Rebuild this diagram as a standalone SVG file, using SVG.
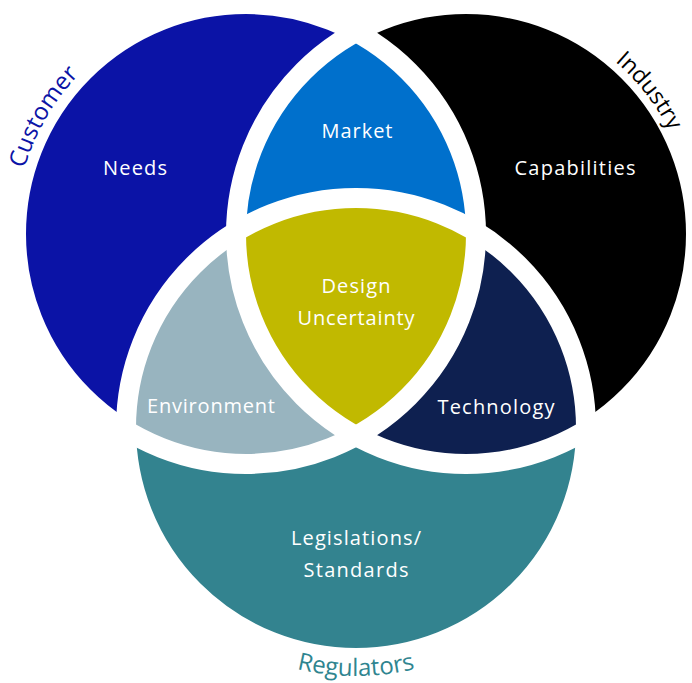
<svg xmlns="http://www.w3.org/2000/svg" width="692" height="683" viewBox="0 0 692 683">
  <style>
    .lbl { font-family: "Open Sans", "DejaVu Sans", sans-serif; font-size: 20px; fill: #ffffff; text-anchor: middle; }
    .set { font-family: "Open Sans", "DejaVu Sans", sans-serif; font-size: 24px; text-anchor: middle; }
    .gap { fill: none; stroke: #ffffff; stroke-width: 20; }
  </style>
  <defs>
    <clipPath id="cL"><circle cx="246" cy="234" r="230"/></clipPath>
    <clipPath id="cR"><circle cx="466" cy="234" r="230"/></clipPath>
    <path id="arcCustomer" d="M 45.95 349.5 A 231 231 0 0 1 246 3"/>
    <path id="arcIndustry" d="M 434.3 8.2 A 228 228 0 0 1 677.4 319.4"/>
    <path id="arcRegulators" d="M 141.2 552 A 248 248 0 0 0 570.8 552"/>
  </defs>

  <g id="needs">
    <circle cx="246" cy="234" r="230" fill="#0b13a6"/>
    <text class="lbl" x="135" y="175" textLength="64">Needs</text>
  </g>
  <g id="capabilities">
    <circle cx="466" cy="234" r="230" fill="#000000"/>
    <text class="lbl" x="575" y="175" textLength="121">Capabilities</text>
  </g>
  <g id="legislations-standards">
    <circle cx="356" cy="428" r="230" fill="#33838f"/>
    <text class="lbl" x="356" y="545" textLength="130">Legislations/</text>
    <text class="lbl" x="356" y="577" textLength="105">Standards</text>
  </g>
  <g id="market">
    <circle cx="466" cy="234" r="230" fill="#0070cc" clip-path="url(#cL)"/>
    <text class="lbl" x="357" y="138" textLength="71">Market</text>
  </g>
  <g id="environment">
    <circle cx="356" cy="428" r="230" fill="#98b4bf" clip-path="url(#cL)"/>
    <text class="lbl" x="211" y="413" textLength="128">Environment</text>
  </g>
  <g id="technology">
    <circle cx="356" cy="428" r="230" fill="#0e2050" clip-path="url(#cR)"/>
    <text class="lbl" x="496" y="414" textLength="117">Technology</text>
  </g>
  <g id="design-uncertainty">
    <g clip-path="url(#cL)">
      <circle cx="356" cy="428" r="230" fill="#c1b900" clip-path="url(#cR)"/>
    </g>
    <text class="lbl" x="356" y="293" textLength="69">Design</text>
    <text class="lbl" x="356" y="325" textLength="117">Uncertainty</text>
  </g>

  <g id="connectors">
    <circle class="gap" cx="246" cy="234" r="230"/>
    <circle class="gap" cx="466" cy="234" r="230"/>
    <circle class="gap" cx="356" cy="428" r="230"/>
  </g>

  <g id="set-labels">
    <text class="set" fill="#0b13a6"><textPath href="#arcCustomer" startOffset="50%">Customer</textPath></text>
    <text class="set" fill="#000000" style="font-size:23px"><textPath href="#arcIndustry" startOffset="50%">Industry</textPath></text>
    <text class="set" fill="#2f8590"><textPath href="#arcRegulators" startOffset="50%">Regulators</textPath></text>
  </g>
</svg>
